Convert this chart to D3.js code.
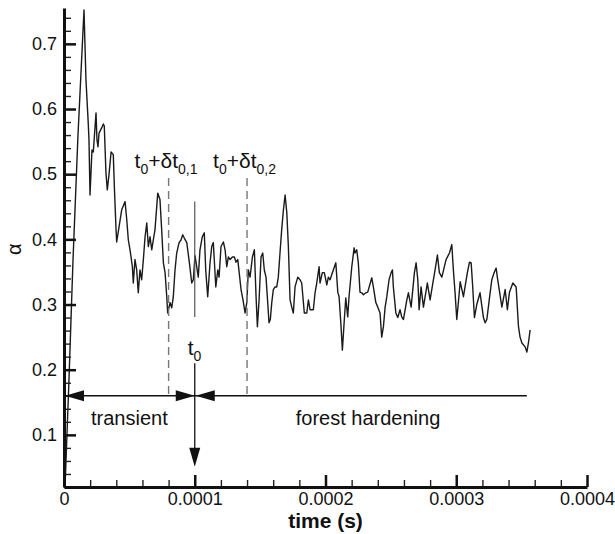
<!DOCTYPE html>
<html>
<head>
<meta charset="utf-8">
<script src="https://cdn.jsdelivr.net/npm/d3@7"></script>
<style>
  body { margin: 0; background: #fff; }
  svg text { font-family: "Liberation Sans", Arial, Helvetica, sans-serif; fill: #111; }
</style>
</head>
<body>
<div id="chart"></div>
<script>
// time (microseconds) and void fraction alpha
var timeUs = [0.8,3.8,6.9,10.7,15.3,16.8,18.6,19.1,19.9,21.4,22.4,24.5,25.2,26.0,26.8,28.8,30.1,30.8,32.1,33.1,
  34.4,36.0,37.7,38.6,39.8,40.3,42.1,44.1,46.7,48.0,49.2,50.5,52.3,53.0,54.3,55.6,56.8,58.1,59.4,60.7,
  62.0,63.3,64.5,65.8,67.1,68.3,69.6,71.7,73.4,74.7,76.0,77.3,78.6,79.3,81.1,82.4,83.6,84.9,86.2,88.0,
  89.5,90.8,92.0,93.9,95.9,97.7,98.9,100.2,102.7,104.0,105.8,107.3,108.4,109.9,111.7,113.0,114.2,116.1,117.6,118.6,
  120.1,121.9,123.2,124.5,125.7,127.0,128.8,130.3,131.6,132.9,135.4,136.9,138.5,139.8,141.0,142.3,144.1,145.6,146.9,147.9,
  149.2,150.7,152.0,153.2,154.5,155.8,156.8,157.8,158.9,160.1,161.4,162.7,163.9,165.2,166.5,167.8,169.1,170.4,171.6,172.9,
  174.2,175.4,176.7,178.8,180.5,181.8,183.8,185.7,186.9,188.2,190.7,192.0,193.3,195.1,195.8,197.6,199.1,201.0,202.2,203.5,
  204.8,207.9,209.4,210.4,211.9,212.9,214.4,215.5,217.0,218.0,220.1,221.9,222.6,223.9,225.1,226.4,227.7,229.0,230.8,232.3,
  235.4,236.6,238.5,240.0,241.7,243.0,244.3,245.6,246.9,248.6,250.2,251.2,251.9,253.8,255.3,257.0,258.3,259.6,262.2,263.4,
  265.5,268.0,269.3,270.6,271.6,273.1,274.9,277.9,280.0,282.1,283.8,285.6,287.1,289.0,292.2,294.8,296.6,297.8,299.1,300.4,
  301.8,303.0,305.5,308.5,310.1,311.4,312.5,313.9,315.7,318.2,320.8,322.1,323.4,325.9,327.2,329.0,330.5,331.5,334.9,337.4,
  339.1,340.7,343.3,345.8,347.6,348.8,350.2,352.7,354.0,355.2,356.5];

var alpha = [0.020,0.184,0.369,0.560,0.752,0.645,0.576,0.553,0.468,0.537,0.534,0.594,0.553,0.542,0.563,0.571,0.577,0.574,0.502,0.476,
  0.499,0.534,0.530,0.476,0.415,0.396,0.419,0.445,0.458,0.430,0.399,0.384,0.358,0.333,0.369,0.353,0.318,0.353,0.338,0.369,
  0.404,0.425,0.389,0.404,0.384,0.399,0.415,0.471,0.461,0.415,0.364,0.349,0.312,0.287,0.303,0.295,0.312,0.353,0.379,0.395,
  0.399,0.407,0.402,0.395,0.364,0.333,0.338,0.375,0.342,0.384,0.404,0.410,0.353,0.312,0.364,0.389,0.395,0.327,0.353,0.342,
  0.389,0.396,0.384,0.358,0.373,0.369,0.373,0.373,0.365,0.369,0.323,0.307,0.287,0.303,0.353,0.342,0.373,0.384,0.312,0.266,
  0.307,0.373,0.379,0.353,0.342,0.303,0.272,0.277,0.303,0.323,0.327,0.327,0.342,0.379,0.415,0.445,0.468,0.441,0.389,0.307,
  0.296,0.287,0.327,0.342,0.338,0.333,0.287,0.287,0.307,0.292,0.292,0.318,0.333,0.358,0.333,0.349,0.349,0.330,0.342,0.338,
  0.346,0.364,0.319,0.312,0.266,0.230,0.277,0.310,0.281,0.312,0.358,0.387,0.379,0.384,0.364,0.319,0.318,0.315,0.318,0.319,
  0.341,0.327,0.303,0.296,0.287,0.250,0.266,0.296,0.312,0.338,0.349,0.353,0.327,0.287,0.280,0.292,0.281,0.277,0.307,0.318,
  0.296,0.349,0.364,0.338,0.292,0.327,0.296,0.333,0.307,0.333,0.353,0.376,0.349,0.342,0.369,0.379,0.392,0.353,0.318,0.277,
  0.307,0.335,0.312,0.349,0.365,0.364,0.330,0.280,0.300,0.318,0.280,0.272,0.277,0.318,0.338,0.349,0.356,0.341,0.296,0.323,
  0.292,0.319,0.333,0.327,0.266,0.250,0.241,0.235,0.227,0.241,0.261];

//axis ticks
var xTicks = [0, 0.0001, 0.0002, 0.0003, 0.0004];
var xTickLabels = ["0", "0.0001", "0.0002", "0.0003", "0.0004"];
var yTicks = [0.1, 0.2, 0.3, 0.4, 0.5, 0.6, 0.7];

//annotation times
var t0 = 0.0001;
var dtTimes = [0.00008, 0.00014];
var endTime = 0.000354;

var width = 615, height = 534;

var x = d3.scaleLinear().domain([0, 0.0004]).range([64, 587]);
var y = d3.scaleLinear().domain([0.02, 0.755]).range([487, 8]);

var svg = d3.select("#chart").append("svg")
    .attr("width", width)
    .attr("height", height);

var points = timeUs.map(function (t, i) { return [t * 1e-6, alpha[i]]; });

//the alpha curve
var line = d3.line()
    .x(function (d) { return x(d[0]); })
    .y(function (d) { return y(d[1]); });

svg.append("path")
    .datum(points)
    .attr("d", line)
    .attr("fill", "none")
    .attr("stroke", "#1a1a1a")
    .attr("stroke-width", 1.4)
    .attr("stroke-linejoin", "round");

///////////////////////////////////////////////////////////////////////////
//////////////////////////////// Axes /////////////////////////////////////
///////////////////////////////////////////////////////////////////////////

var yMinor = d3.range(0.02, 0.75, 0.02).filter(function (v) {
  return Math.abs(v * 10 - Math.round(v * 10)) > 1e-6;
});
var xMinor = d3.range(0, 0.0004, 0.00002).filter(function (v) {
  return Math.abs(v * 1e4 - Math.round(v * 1e4)) > 1e-6;
});

svg.append("g")
    .attr("transform", "translate(64,0)")
    .call(d3.axisLeft(y).tickValues(yMinor).tickFormat("").tickSize(-7).tickSizeOuter(0))
    .call(function (g) { g.select(".domain").remove(); })
    .selectAll("line").attr("stroke-width", 1.4).attr("stroke", "#222");

svg.append("g")
    .attr("transform", "translate(0,487)")
    .call(d3.axisBottom(x).tickValues(xMinor).tickFormat("").tickSize(-7).tickSizeOuter(0))
    .call(function (g) { g.select(".domain").remove(); })
    .selectAll("line").attr("stroke-width", 1.4).attr("stroke", "#222");

var yAxis = svg.append("g")
    .attr("transform", "translate(64,0)")
    .call(d3.axisLeft(y).tickValues(yTicks).tickFormat(d3.format(".1f")).tickSize(-12).tickSizeOuter(0).tickPadding(7));

var xAxis = svg.append("g")
    .attr("transform", "translate(0,487)")
    .call(d3.axisBottom(x).tickValues(xTicks)
      .tickFormat(function (d, i) { return xTickLabels[i]; })
      .tickSize(-12).tickSizeOuter(0).tickPadding(5));

[yAxis, xAxis].forEach(function (g) {
  g.select(".domain").attr("stroke", "#111").attr("stroke-width", 3);
  g.selectAll(".tick line").attr("stroke", "#111").attr("stroke-width", 2.5);
  g.selectAll(".tick text").attr("font-size", 18).attr("fill", "#111")
    .style("font-family", "'Liberation Sans', Arial, sans-serif");
});

svg.append("text")
    .attr("x", (x(0) + x(0.0004)) / 2)
    .attr("y", 528)
    .attr("text-anchor", "middle")
    .attr("font-size", 21)
    .attr("font-weight", "bold")
    .text("time (s)");

svg.append("text")
    .attr("transform", "translate(21," + y(0.385) + ") rotate(-90)")
    .attr("text-anchor", "middle")
    .attr("font-size", 20)
    .text("α");

///////////////////////////////////////////////////////////////////////////
///////////////////////////// Annotations /////////////////////////////////
///////////////////////////////////////////////////////////////////////////

var arrowA = 0.160;

//dashed markers at t0 + dt
svg.selectAll(".dt-line")
    .data(dtTimes)
    .enter().append("line")
    .attr("class", "dt-line")
    .attr("x1", function (d) { return x(d); })
    .attr("x2", function (d) { return x(d); })
    .attr("y1", y(0.494))
    .attr("y2", y(arrowA))
    .attr("stroke", "#777")
    .attr("stroke-width", 1.4)
    .attr("stroke-dasharray", "8,5");

//labels t0+dt0,i
dtTimes.forEach(function (t, i) {
  var lbl = svg.append("text")
      .attr("x", x(t) - 34)
      .attr("y", y(0.509))
      .attr("font-size", 21);
  lbl.append("tspan").text("t");
  lbl.append("tspan").attr("font-size", 14).attr("dy", 6).text("0");
  lbl.append("tspan").attr("dy", -6).text("+δt");
  lbl.append("tspan").attr("font-size", 14).attr("dy", 6).text("0," + (i + 1));
});

//solid t0 line
svg.append("line")
    .attr("x1", x(t0)).attr("x2", x(t0))
    .attr("y1", y(0.458)).attr("y2", y(0.281))
    .attr("stroke", "#555")
    .attr("stroke-width", 1.2);

var t0Label = svg.append("text")
    .attr("x", x(t0) - 7)
    .attr("y", y(0.222))
    .attr("font-size", 21);
t0Label.append("tspan").text("t");
t0Label.append("tspan").attr("font-size", 14).attr("dy", 6).text("0");

//downward arrow
svg.append("line")
    .attr("x1", x(t0)).attr("x2", x(t0))
    .attr("y1", y(0.210)).attr("y2", y(0.070))
    .attr("stroke", "#111")
    .attr("stroke-width", 1.3);

function head(tipX, tipY, dx, dy) {
  //triangle: tip, then base spread perpendicular
  var len = 19, half = 5.5;
  var bx = tipX - dx * len, by = tipY - dy * len;
  return "M" + tipX + "," + tipY +
    "L" + (bx - dy * half) + "," + (by + dx * half) +
    "L" + (bx + dy * half) + "," + (by - dx * half) + "Z";
}

var ay = y(arrowA);

svg.append("path")
    .attr("d", head(x(t0), y(0.051), 0, 1))
    .attr("fill", "#111");

//horizontal line with arrows
svg.append("line")
    .attr("x1", x(0)).attr("x2", x(endTime))
    .attr("y1", ay).attr("y2", ay)
    .attr("stroke", "#111")
    .attr("stroke-width", 1.3);

svg.append("path").attr("d", head(x(0) + 1, ay, -1, 0)).attr("fill", "#111");
svg.append("path").attr("d", head(x(t0), ay, 1, 0)).attr("fill", "#111");
svg.append("path").attr("d", head(x(t0) + 1, ay, -1, 0)).attr("fill", "#111");

svg.append("text")
    .attr("x", (x(0) + x(t0)) / 2)
    .attr("y", ay + 29)
    .attr("text-anchor", "middle")
    .attr("font-size", 20)
    .text("transient");

svg.append("text")
    .attr("x", 368)
    .attr("y", ay + 29)
    .attr("text-anchor", "middle")
    .attr("font-size", 20)
    .text("forest hardening");
</script>
</body>
</html>
